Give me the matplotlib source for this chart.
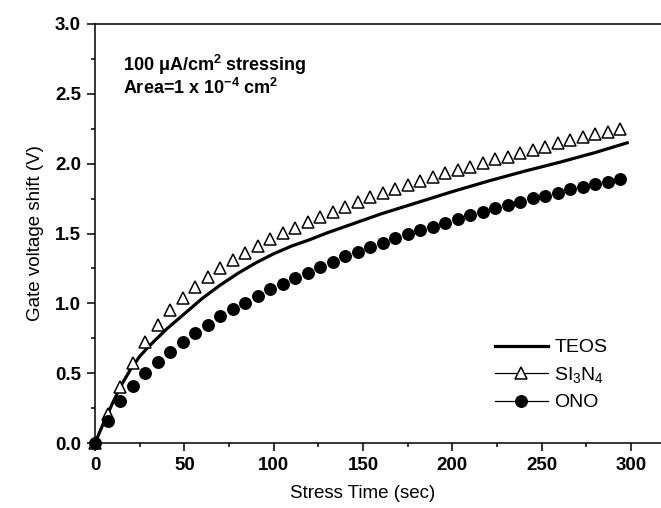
import numpy as np
import matplotlib
matplotlib.use("Agg")
import matplotlib.pyplot as plt
from matplotlib.lines import Line2D
from matplotlib.ticker import MultipleLocator

plt.rcParams['font.family'] = ['Liberation Sans', 'DejaVu Sans']
plt.rcParams['mathtext.fontset'] = 'custom'
plt.rcParams['mathtext.rm'] = 'Liberation Sans'
plt.rcParams['mathtext.bf'] = 'Liberation Sans:bold'
plt.rcParams['mathtext.it'] = 'Liberation Sans:italic'

# stress time of the marker series (every 7 s)
t_markers = np.arange(0, 295, 7)

si3n4 = [0.0, 0.21, 0.40, 0.575, 0.72, 0.845, 0.95, 1.04, 1.12, 1.19,
         1.25, 1.31, 1.36, 1.41, 1.46, 1.505, 1.54, 1.58, 1.62, 1.655,
         1.69, 1.727, 1.759, 1.787, 1.818, 1.845, 1.873, 1.902, 1.931, 1.954,
         1.978, 2.007, 2.031, 2.05, 2.074, 2.097, 2.121, 2.145, 2.169, 2.188,
         2.209, 2.226, 2.245]

ono = [0.0, 0.16, 0.30, 0.405, 0.499, 0.582, 0.654, 0.725, 0.785, 0.845,
       0.909, 0.957, 1.004, 1.052, 1.10, 1.138, 1.179, 1.219, 1.258, 1.298,
       1.339, 1.365, 1.401, 1.43, 1.465, 1.494, 1.525, 1.549, 1.577, 1.603,
       1.63, 1.654, 1.68, 1.704, 1.727, 1.752, 1.770, 1.792, 1.816, 1.835,
       1.854, 1.871, 1.890]

# TEOS solid curve
t_teos = [0, 5, 10, 15, 20, 25, 30, 40, 50, 60, 70, 80, 90, 100, 110, 120,
          130, 140, 150, 160, 170, 180, 190, 200, 220, 240, 260, 280, 298]
teos = [0.0, 0.15, 0.29, 0.42, 0.53, 0.62, 0.69, 0.815, 0.925, 1.035, 1.13,
        1.215, 1.29, 1.355, 1.41, 1.455, 1.505, 1.55, 1.595, 1.64, 1.68,
        1.72, 1.76, 1.80, 1.875, 1.945, 2.01, 2.08, 2.15]

W, H = 661, 508
fig = plt.figure(figsize=(W / 100, H / 100), dpi=100)
x_max = 320
px_per_s = 1.787
ax = fig.add_axes([95 / W, (H - 443) / H, x_max * px_per_s / W, (443 - 24) / H])

ax.plot(t_teos, teos, color='black', lw=2.3, solid_capstyle='round')
ax.plot(t_markers, si3n4, ls='none', marker='^', ms=9, mfc='white',
        mec='black', mew=1.1, clip_on=False, zorder=3)
ax.plot(t_markers, ono, ls='none', marker='o', ms=8.3, mfc='black',
        mec='black', clip_on=False, zorder=3)

ax.set_xlim(0, x_max)
ax.set_ylim(0, 3.0)
ax.xaxis.set_major_locator(MultipleLocator(50))
ax.xaxis.set_minor_locator(MultipleLocator(25))
ax.yaxis.set_major_locator(MultipleLocator(0.5))
ax.yaxis.set_minor_locator(MultipleLocator(0.25))
ax.yaxis.set_major_formatter(plt.FormatStrFormatter('%.1f'))
ax.tick_params(which='major', direction='out', length=6, width=1.1,
               labelsize=13.5, pad=4)
ax.tick_params(which='minor', direction='out', length=3, width=1.1)
for lab in ax.get_xticklabels() + ax.get_yticklabels():
    lab.set_fontweight('bold')
ax.spines['right'].set_visible(False)
for s in ['left', 'bottom', 'top']:
    ax.spines[s].set_linewidth(1.1)

ax.set_xlabel('Stress Time (sec)', fontsize=13.5, labelpad=6)
ax.set_ylabel('Gate voltage shift (V)', fontsize=13.5, labelpad=8)
ax.xaxis.set_label_coords((363 - 95) / (x_max * px_per_s), -0.1)

fig.text(123 / W, (H - 71) / H, r'100 μA/cm$^{\mathbf{2}}$ stressing',
         fontsize=13, fontweight='bold', va='baseline')
fig.text(123 / W, (H - 94) / H, r'Area=1 x 10$^{\mathbf{-4}}$ cm$^{\mathbf{2}}$',
         fontsize=13, fontweight='bold', va='baseline')

handles = [
    Line2D([], [], color='black', lw=2.3),
    Line2D([], [], color='black', lw=0.9, marker='^', ms=9, mfc='white',
           mec='black', mew=1.1),
    Line2D([], [], color='black', lw=0.9, marker='o', ms=8.3, mfc='black'),
]
labels = ['TEOS', r'SI$_3$N$_4$', 'ONO']
fig.legend(handles, labels, loc='lower left', bbox_to_anchor=(495 / W, 0.19),
           frameon=False, fontsize=14, handlelength=2.7, handletextpad=0.35,
           labelspacing=0.45, borderpad=0, borderaxespad=0)

fig.savefig('out.png', dpi=100)
